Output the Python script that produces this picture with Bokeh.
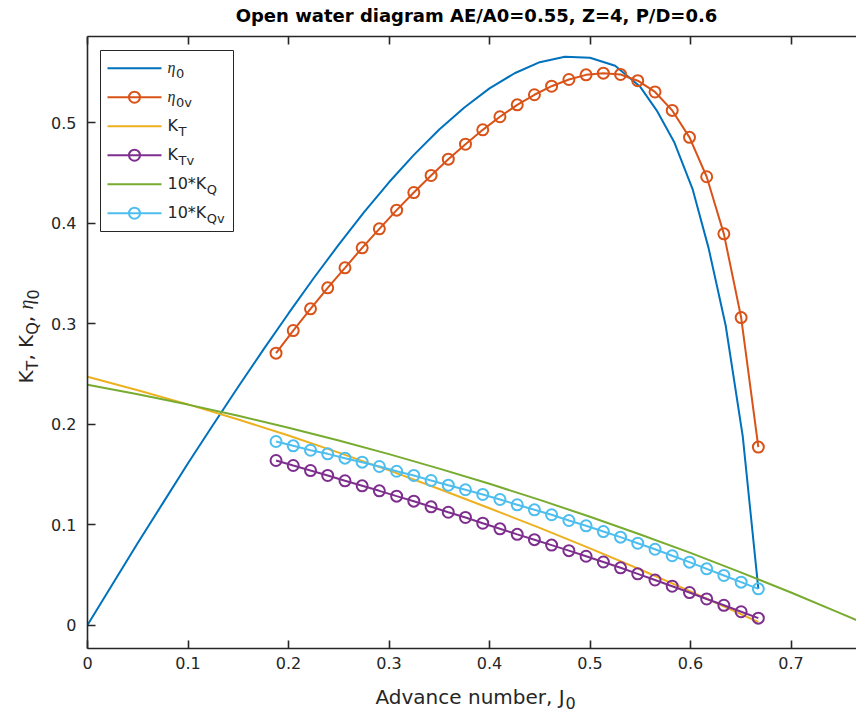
import numpy as np
from bokeh.plotting import figure
from bokeh.layouts import column, row
from bokeh.models import Range1d, LinearAxis, FixedTicker, CustomJSTickFormatter, Label
from bokeh.embed import file_html
from bokeh.resources import INLINE

# ---------------------------------------------------------------- data
# open-water efficiency curve
J_eta = [0.0, 0.025, 0.05, 0.075, 0.10, 0.125, 0.15, 0.175, 0.20, 0.225, 0.25, 0.275,
         0.30, 0.325, 0.35, 0.375, 0.40, 0.425, 0.45, 0.475, 0.50, 0.525, 0.55, 0.567,
         0.584, 0.602, 0.618, 0.635, 0.652, 0.6675]
eta0 = [0.0, 0.0408, 0.0815, 0.1213, 0.1610, 0.1992, 0.2370, 0.2740, 0.3100, 0.3450,
        0.3785, 0.4105, 0.4405, 0.4680, 0.4930, 0.5150, 0.5340, 0.5490, 0.5600, 0.5655,
        0.5645, 0.5565, 0.5355, 0.511, 0.480, 0.434, 0.375, 0.298, 0.1876, 0.036]

# thrust coefficient K_T
J_kt = [0.0, 0.05, 0.10, 0.15, 0.20, 0.25, 0.30, 0.35, 0.40, 0.45, 0.50, 0.55, 0.60, 0.65, 0.6675]
KT = [0.247, 0.2335, 0.2195, 0.2045, 0.1885, 0.1715, 0.1538, 0.1353, 0.1162, 0.0966,
      0.0763, 0.0552, 0.0334, 0.0108, 0.003]

# torque coefficient 10*K_Q
J_kq = [0.0, 0.05, 0.10, 0.15, 0.20, 0.25, 0.30, 0.35, 0.40, 0.45, 0.50, 0.55, 0.60, 0.65,
        0.70, 0.75, 0.772]
KQ10 = [0.239, 0.2295, 0.2193, 0.2082, 0.1963, 0.1835, 0.1700, 0.1556, 0.1405, 0.1245,
        0.1077, 0.0901, 0.0718, 0.0524, 0.0323, 0.0113, 0.0019]

# values at the validation advance numbers
J_v = [0.1876, 0.2047, 0.2219, 0.2390, 0.2562, 0.2733, 0.2904, 0.3076, 0.3247, 0.3419,
       0.3590, 0.3761, 0.3933, 0.4104, 0.4276, 0.4447, 0.4618, 0.4790, 0.4961, 0.5133,
       0.5304, 0.5475, 0.5647, 0.5818, 0.5990, 0.6161, 0.6332, 0.6504, 0.6675]
eta0v = [0.2705, 0.2930, 0.3146, 0.3355, 0.3554, 0.3753, 0.3942, 0.4128, 0.4303, 0.4473,
         0.4635, 0.4784, 0.4927, 0.5057, 0.5176, 0.5276, 0.5361, 0.5428, 0.5474, 0.5491,
         0.5478, 0.5416, 0.5304, 0.5120, 0.4852, 0.4460, 0.3892, 0.3059, 0.1770]
KTv = [0.1637, 0.1587, 0.1537, 0.1488, 0.1435, 0.1385, 0.1335, 0.1282, 0.1232, 0.1176,
       0.1122, 0.1070, 0.1013, 0.0957, 0.0902, 0.0849, 0.0795, 0.0740, 0.0684, 0.0627,
       0.0569, 0.0509, 0.0448, 0.0386, 0.0323, 0.0259, 0.0196, 0.0132, 0.0068]
KQv10 = [0.1826, 0.1783, 0.1739, 0.1703, 0.1660, 0.1620, 0.1577, 0.1530, 0.1488, 0.1438,
         0.1391, 0.1346, 0.1299, 0.1249, 0.1196, 0.1146, 0.1097, 0.1040, 0.0987, 0.0930,
         0.0874, 0.0814, 0.0754, 0.0689, 0.0625, 0.0559, 0.0493, 0.0426, 0.0360]

x_ticks = [0.0, 0.1, 0.2, 0.3, 0.4, 0.5, 0.6, 0.7]
y_ticks = [0.0, 0.1, 0.2, 0.3, 0.4, 0.5]

title_text = "Open water diagram AE/A0=0.55, Z=4, P/D=0.6"
xlabel_text = "Advance number, J"

# ---------------------------------------------------------------- style / layout
BLUE, ORANGE, YELLOW = "#0072BD", "#D95319", "#EDB120"
PURPLE, GREEN, CYAN = "#7E2F8E", "#77AC30", "#4DBEEE"
AX = "#262626"
SANS = "DejaVu Sans"
SERIF = "Liberation Serif"

W, H = 856, 719
TITLE_H = 30          # strip holding the title
YLAB_W = 45           # strip holding the rotated y label
XLAB_H = 39           # strip holding the x label
MAIN_W = W - YLAB_W
MAIN_H = H - TITLE_H - XLAB_H

LEFT, TOP, BOTTOM = 87, 36, 648      # plot frame edges on the page
PPU = 1005.0                          # pixels per axis unit
ZERO_Y = 624.5                        # page row of y = 0
ROT = np.pi / 2
ANCHOR_SHIFT = 0.36                   # label anchor sits this far (in em) above the glyph baseline

x_end = (W - LEFT) / PPU
y_start = -(BOTTOM - ZERO_Y) / PPU
y_end = (ZERO_Y - TOP) / PPU


def dx(px):
    return (px - LEFT) / PPU


def dy(py):
    return (ZERO_Y - py) / PPU


fig = figure(width=MAIN_W, height=MAIN_H, x_range=Range1d(0.0, x_end),
             y_range=Range1d(y_start, y_end),
             output_backend="svg", toolbar_location=None, title_location=None,
             min_border_left=LEFT - YLAB_W, min_border_right=0,
             min_border_top=TOP - TITLE_H, min_border_bottom=TITLE_H + MAIN_H - BOTTOM)
fig.outline_line_color = None
fig.xgrid.visible = False
fig.ygrid.visible = False
fig.background_fill_color = "white"
fig.border_fill_color = "white"

fmt = CustomJSTickFormatter(code="return tick == 0 ? '0' : tick.toFixed(1);")
blank_fmt = CustomJSTickFormatter(code="return '';")


def style_axis(ax, ticks, labels=True):
    ax.ticker = FixedTicker(ticks=ticks)
    ax.major_tick_in = 8
    ax.major_tick_out = 0
    ax.minor_tick_line_color = None
    ax.axis_line_color = AX
    ax.axis_line_width = 1.6
    ax.major_tick_line_color = AX
    ax.major_tick_line_width = 1.6
    ax.major_label_text_font = SANS
    ax.major_label_text_color = AX
    if labels:
        ax.formatter = fmt
        ax.major_label_text_font_size = "16px"
    else:
        ax.formatter = blank_fmt
        ax.major_label_text_font_size = "1px"
        ax.major_label_standoff = 0


style_axis(fig.xaxis[0], x_ticks)
fig.xaxis[0].major_label_standoff = 8
style_axis(fig.yaxis[0], y_ticks)
fig.yaxis[0].major_label_standoff = 11

top_axis = LinearAxis()
style_axis(top_axis, x_ticks, labels=False)
fig.add_layout(top_axis, "above")

# ---------------------------------------------------------------- curves
LW = 2
MS = 11
fig.line(J_eta, eta0, line_color=BLUE, line_width=LW)
fig.line(J_v, eta0v, line_color=ORANGE, line_width=LW)
fig.scatter(J_v, eta0v, marker="circle", size=MS, line_color=ORANGE, fill_color=None, line_width=LW)
fig.line(J_kt, KT, line_color=YELLOW, line_width=LW)
fig.line(J_v, KTv, line_color=PURPLE, line_width=LW)
fig.scatter(J_v, KTv, marker="circle", size=MS, line_color=PURPLE, fill_color=None, line_width=LW)
fig.line(J_kq, KQ10, line_color=GREEN, line_width=LW)
fig.line(J_v, KQv10, line_color=CYAN, line_width=LW)
fig.scatter(J_v, KQv10, marker="circle", size=MS, line_color=CYAN, fill_color=None, line_width=LW)


# ---------------------------------------------------------------- text helper
def txt(target, frame_left, frame_bottom, px, py, text, size, font=SANS, style="normal",
        color=AX, align="left", angle=0.0):
    """Place a text with its baseline at page position (px, py)."""
    if angle == 0.0:
        py -= ANCHOR_SHIFT * size
    else:
        px -= ANCHOR_SHIFT * size
    target.add_layout(Label(x=px - frame_left, y=frame_bottom - py,
                            x_units="screen", y_units="screen", text=text,
                            text_font=font, text_font_style=style,
                            text_font_size=f"{size}px", text_color=color,
                            text_align=align, text_baseline="alphabetic", angle=angle))


# ---------------------------------------------------------------- legend
fig.quad(left=[dx(100)], right=[dx(233)], top=[dy(50)], bottom=[dy(231)],
         fill_color="white", line_color=AX, line_width=1)

legend_rows = [
    (BLUE, False, ("\u03b7", SERIF, "italic", 8.0), "0"),
    (ORANGE, True, ("\u03b7", SERIF, "italic", 8.0), "0v"),
    (YELLOW, False, ("K", SANS, "normal", 0.656 * 16), "T"),
    (PURPLE, True, ("K", SANS, "normal", 0.656 * 16), "Tv"),
    (GREEN, False, ("10*K", SANS, "normal", (0.636 * 2 + 0.5 + 0.656) * 16), "Q"),
    (CYAN, True, ("10*K", SANS, "normal", (0.636 * 2 + 0.5 + 0.656) * 16), "Qv"),
]
for i, (col, has_marker, (main, font, style, wmain), sub) in enumerate(legend_rows):
    ry = 67.7 + 29.0 * i
    fig.line([dx(107), dx(161)], [dy(ry), dy(ry)], line_color=col, line_width=LW)
    if has_marker:
        fig.scatter([dx(134)], [dy(ry)], marker="circle", size=MS, line_color=col,
                    fill_color=None, line_width=LW)
    txt(fig, LEFT, BOTTOM, 167, ry + 5.0, main, 16, font=font, style=style)
    txt(fig, LEFT, BOTTOM, 167 + wmain + 0.5, ry + 10.0, sub, 13)


# ---------------------------------------------------------------- text strips
def strip(w, h):
    f = figure(width=w, height=h, x_range=Range1d(0, w), y_range=Range1d(0, h),
               output_backend="svg", toolbar_location=None, title_location=None,
               x_axis_location=None, y_axis_location=None,
               min_border_left=0, min_border_right=0, min_border_top=0, min_border_bottom=0)
    f.outline_line_color = None
    f.grid.visible = False
    f.background_fill_color = "white"
    f.border_fill_color = "white"
    return f


title_fig = strip(W, TITLE_H)
txt(title_fig, 0, TITLE_H, 476, 21.5, title_text, 18, style="bold", color="black",
    align="center")

xlab_fig = strip(W, XLAB_H)
XO = TITLE_H + MAIN_H
txt(xlab_fig, 0, XO + XLAB_H, 375, 703.5, xlabel_text, 20)
txt(xlab_fig, 0, XO + XLAB_H, 565, 708.5, "0", 16)

# rotated y label: K_T, K_Q, eta_0
# (the strip's frame lines up with the main frame inside the row, so its bottom is BOTTOM)
ylab_fig = strip(YLAB_W, MAIN_H)
YB = BOTTOM
bx = 33
ypos = 383.0
txt(ylab_fig, 0, YB, bx, ypos, "K", 20, angle=ROT); ypos -= 0.656 * 20
txt(ylab_fig, 0, YB, bx + 5, ypos, "T", 16, angle=ROT); ypos -= 0.611 * 16
txt(ylab_fig, 0, YB, bx, ypos, ", K", 20, angle=ROT); ypos -= (0.318 + 0.318 + 0.656) * 20
txt(ylab_fig, 0, YB, bx + 5, ypos, "Q", 16, angle=ROT); ypos -= 0.787 * 16
txt(ylab_fig, 0, YB, bx, ypos, ", ", 20, angle=ROT); ypos -= 0.636 * 20
txt(ylab_fig, 0, YB, bx, ypos, "\u03b7", 20, font=SERIF, style="italic", angle=ROT); ypos -= 0.5 * 20
txt(ylab_fig, 0, YB, bx + 5, ypos, "0", 16, angle=ROT)

p = column(title_fig, row(ylab_fig, fig, spacing=0), xlab_fig, spacing=0)

open("out.html", "w").write(file_html(p, INLINE))
